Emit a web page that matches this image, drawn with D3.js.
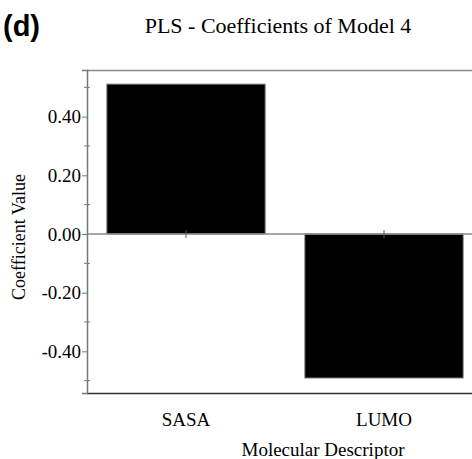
<!DOCTYPE html>
<html>
<head>
<meta charset="utf-8">
<script src="https://cdn.jsdelivr.net/npm/d3@7"></script>
<style>
  body { margin: 0; background: #fff; }
  text { font-family: "Liberation Serif", "Times New Roman", serif; fill: #000; }
</style>
</head>
<body>
<script>
// values
const descriptors = ['SASA', 'LUMO']
const coefficients = [0.511, -0.491]
const majorTicks = [-0.4, -0.2, 0, 0.2, 0.4]
const minorTicks = [-0.5, -0.3, -0.1, 0.1, 0.3, 0.5]

const width = 472
const height = 459
const margins = { top: 70, left: 87, right: -11, bottom: 66 }

const svg = d3.select('body').append('svg')
	.attr('width', width)
	.attr('height', height)

const x = d3.scaleBand()
	.domain(descriptors)
	.range([margins.left, width - margins.right])
	.paddingInner(0.2)
	.paddingOuter(0.1)

const y = d3.scaleLinear()
	.domain([-0.542, 0.559])
	.range([height - margins.bottom, margins.top])

const fmt = d => d3.format('.2f')(d).replace('\u2212', '-')

// plot frame
svg.append('line')
	.attr('x1', margins.left).attr('x2', width - margins.right)
	.attr('y1', margins.top + 0.5).attr('y2', margins.top + 0.5)
	.attr('stroke', '#8a8a8a').attr('stroke-width', 1.5)
svg.append('line')
	.attr('x1', margins.left).attr('x2', width - margins.right)
	.attr('y1', height - margins.bottom + 0.5).attr('y2', height - margins.bottom + 0.5)
	.attr('stroke', '#333').attr('stroke-width', 1.5)

// bars
svg.append('g').selectAll('rect')
	.data(descriptors)
	.join('rect')
	.attr('x', d => x(d))
	.attr('width', x.bandwidth())
	.attr('y', (d, i) => y(Math.max(0, coefficients[i])))
	.attr('height', (d, i) => Math.abs(y(coefficients[i]) - y(0)))
	.attr('fill', '#000')
	.attr('stroke', '#8a8a8a')
	.attr('stroke-width', 1)

// zero line
svg.append('line')
	.attr('x1', margins.left).attr('x2', width - margins.right)
	.attr('y1', y(0)).attr('y2', y(0))
	.attr('stroke', '#8a8a8a').attr('stroke-width', 1.5)

// x ticks on the zero line
svg.append('g').selectAll('line')
	.data(descriptors)
	.join('line')
	.attr('x1', d => x(d) + x.bandwidth() / 2)
	.attr('x2', d => x(d) + x.bandwidth() / 2)
	.attr('y1', y(0) - 4).attr('y2', y(0) + 4)
	.attr('stroke', '#555')

// y axis
const yAxis = svg.append('g')
	.attr('transform', 'translate(' + margins.left + ',0)')
	.call(d3.axisLeft(y).tickValues(majorTicks).tickFormat(fmt).tickSize(5).tickPadding(1))
yAxis.select('.domain').attr('stroke', '#777').attr('stroke-width', 1.5)
yAxis.selectAll('.tick line').attr('stroke', '#777')
yAxis.selectAll('.tick text')
	.style('font-family', '"Liberation Serif", serif')
	.style('font-size', '19px')
	.attr('fill', '#000')

// minor ticks crossing the axis
svg.append('g').selectAll('line')
	.data(minorTicks)
	.join('line')
	.attr('x1', margins.left - 3).attr('x2', margins.left + 3)
	.attr('y1', d => y(d)).attr('y2', d => y(d))
	.attr('stroke', '#777')

// x axis labels
const xAxis = svg.append('g')
	.attr('transform', 'translate(0,' + (height - margins.bottom) + ')')
	.call(d3.axisBottom(x).tickSize(0).tickPadding(19.5))
xAxis.select('.domain').remove()
xAxis.selectAll('.tick text')
	.style('font-family', '"Liberation Serif", serif')
	.style('font-size', '19px')
	.attr('fill', '#000')

// titles
svg.append('text')
	.attr('x', 278).attr('y', 33)
	.attr('text-anchor', 'middle')
	.style('font-size', '22px')
	.text('PLS - Coefficients of Model 4')

svg.append('text')
	.attr('x', 3).attr('y', 36)
	.style('font-family', '"Liberation Sans", Arial, sans-serif')
	.style('font-weight', 'bold')
	.style('font-size', '29px')
	.text('(d)')

svg.append('text')
	.attr('x', 323).attr('y', 456)
	.attr('text-anchor', 'middle')
	.style('font-size', '19px')
	.text('Molecular Descriptor')

svg.append('text')
	.attr('transform', 'translate(25,237) rotate(-90)')
	.attr('text-anchor', 'middle')
	.style('font-size', '18px')
	.text('Coefficient Value')
</script>
</body>
</html>
